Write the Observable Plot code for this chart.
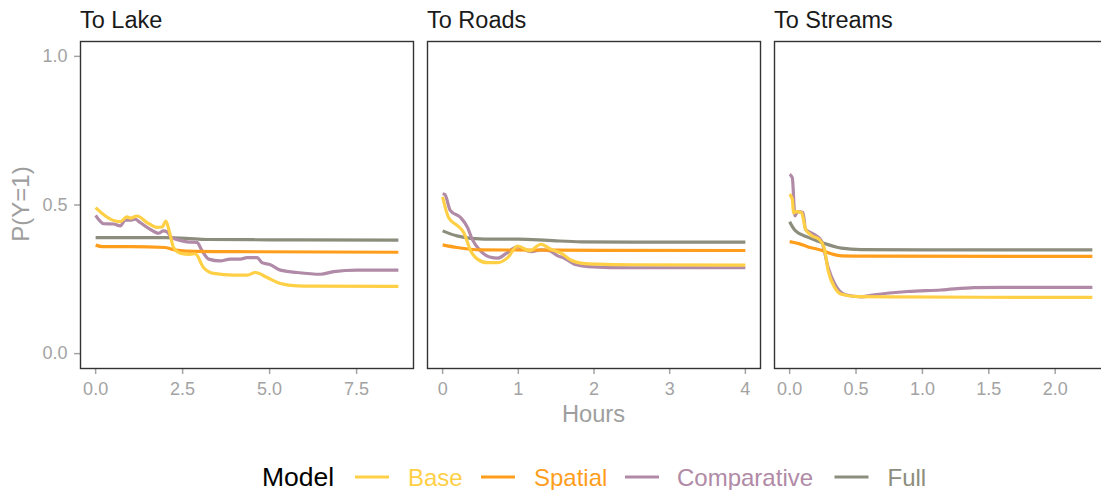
<!DOCTYPE html>
<html>
<head>
<meta charset="utf-8">
<script src="https://cdn.jsdelivr.net/npm/d3@7"></script>
<script src="https://cdn.jsdelivr.net/npm/@observablehq/plot@0.6"></script>
<style>
  html, body { margin: 0; padding: 0; background: #fff; overflow: hidden; }
  #chart { position: relative; width: 1101px; height: 490px; overflow: hidden; background: #fff;
           font-family: "Liberation Sans", Arial, sans-serif; }
  .panel { position: absolute; top: 0; }
  #overlay { position: absolute; left: 0; top: 0; }
</style>
</head>
<body>
<div id="chart"></div>
<script>
// ---- Data ----
const models = ["Base", "Spatial", "Comparative", "Full"];
const modelColors = ["#FFCF45", "#FF9E1C", "#B08AA6", "#8C8D7C"];
const facets = ["To Lake", "To Roads", "To Streams"];

// [hours, P(Y=1)]
const lakeBase = [[0,0.491],[0.28,0.463],[0.57,0.446],[0.71,0.444],[0.9,0.46],[1.0,0.456],[1.19,0.463],[1.48,0.441],[1.76,0.425],[1.91,0.426],[2.02,0.446],[2.12,0.41],[2.24,0.357],[2.43,0.338],[2.72,0.334],[2.86,0.336],[3.1,0.29],[3.39,0.270],[3.97,0.264],[4.35,0.264],[4.59,0.273],[4.93,0.256],[5.31,0.236],[5.79,0.228],[6.27,0.227],[8.7,0.226]];
const lakeSpatial = [[0,0.365],[0.2,0.36],[1.0,0.36],[2.0,0.357],[2.3,0.348],[2.6,0.345],[4.0,0.343],[8.7,0.341]];
const lakeComparative = [[0,0.465],[0.06,0.455],[0.23,0.437],[0.52,0.436],[0.71,0.43],[0.85,0.449],[1.0,0.449],[1.14,0.452],[1.28,0.441],[1.57,0.418],[1.81,0.405],[1.95,0.413],[2.05,0.41],[2.19,0.390],[2.43,0.381],[2.63,0.376],[2.91,0.374],[3.06,0.346],[3.25,0.318],[3.58,0.312],[3.87,0.318],[4.16,0.318],[4.35,0.323],[4.64,0.323],[4.78,0.306],[5.02,0.299],[5.31,0.281],[5.79,0.273],[6.46,0.267],[6.84,0.276],[7.51,0.281],[8.7,0.281]];
const lakeFull = [[0,0.39],[1.0,0.39],[2.0,0.39],[2.6,0.388],[3.2,0.384],[5.0,0.383],[8.7,0.382]];

const roadsBase = [[0,0.527],[0.08,0.457],[0.2,0.430],[0.28,0.407],[0.37,0.346],[0.46,0.318],[0.59,0.306],[0.73,0.306],[0.86,0.323],[0.99,0.362],[1.15,0.346],[1.30,0.368],[1.43,0.351],[1.57,0.337],[1.70,0.314],[1.88,0.303],[2.05,0.301],[2.5,0.299],[4.0,0.298]];
const roadsSpatial = [[0,0.366],[0.19,0.357],[0.5,0.349],[1.5,0.348],[4.0,0.347]];
const roadsComparative = [[0,0.538],[0.03,0.535],[0.1,0.482],[0.24,0.457],[0.33,0.424],[0.39,0.385],[0.5,0.346],[0.62,0.325],[0.73,0.321],[0.84,0.337],[0.99,0.359],[1.17,0.343],[1.30,0.349],[1.41,0.346],[1.52,0.329],[1.61,0.321],[1.74,0.301],[1.92,0.293],[2.5,0.289],[4.0,0.289]];
const roadsFull = [[0,0.413],[0.19,0.396],[0.37,0.388],[0.73,0.385],[1.0,0.385],[1.39,0.381],[1.83,0.376],[2.5,0.375],[4.0,0.375]];

const streamsBase = [[0,0.536],[0.02,0.52],[0.03,0.474],[0.05,0.478],[0.09,0.474],[0.12,0.418],[0.17,0.396],[0.22,0.385],[0.26,0.357],[0.29,0.279],[0.34,0.222],[0.39,0.200],[0.52,0.192],[0.77,0.191],[2.28,0.189]];
const streamsSpatial = [[0,0.377],[0.07,0.370],[0.14,0.359],[0.24,0.348],[0.32,0.335],[0.39,0.329],[0.6,0.328],[2.28,0.327]];
const streamsComparative = [[0,0.603],[0.02,0.592],[0.04,0.463],[0.06,0.478],[0.1,0.475],[0.12,0.418],[0.18,0.402],[0.24,0.379],[0.29,0.290],[0.34,0.234],[0.42,0.198],[0.54,0.191],[0.64,0.198],[0.89,0.209],[1.14,0.214],[1.39,0.222],[1.6,0.223],[2.28,0.223]];
const streamsFull = [[0,0.444],[0.04,0.415],[0.14,0.391],[0.24,0.374],[0.39,0.355],[0.54,0.350],[1.0,0.349],[2.28,0.349]];

const xTicksLake = [0, 2.5, 5, 7.5];
const xTicksRoads = [0, 1, 2, 3, 4];
const xTicksStreams = [0, 0.5, 1, 1.5, 2];
const yTicks = [0, 0.5, 1];

// ---- Build tables ----
function table(series) {
  const rows = [];
  // draw order: Full, Comparative, Spatial, Base (Base on top)
  for (const [model, pts] of series) for (const [h, p] of pts) rows.push({hours: h, p, model});
  return rows;
}
const lakeData = table([["Full", lakeFull], ["Comparative", lakeComparative], ["Spatial", lakeSpatial], ["Base", lakeBase]]);
const roadsData = table([["Full", roadsFull], ["Comparative", roadsComparative], ["Spatial", roadsSpatial], ["Base", roadsBase]]);
const streamsData = table([["Full", streamsFull], ["Comparative", streamsComparative], ["Spatial", streamsSpatial], ["Base", streamsBase]]);

const FONT = "'Liberation Sans', Arial, sans-serif";
const GREY = "#A3A3A3";
const PANEL_W = 333, TOP = 41, BOTTOM = 368, SVG_H = 430;

function expand(maxX) { const e = maxX * 0.05; return [-e, maxX + e]; }

function panel(data, xDomain, xTicks, xFmt, showY, frameLeft, marginLeft) {
  const marginRight = 7;
  const p = Plot.plot({
    width: marginLeft + PANEL_W + marginRight,
    height: SVG_H,
    marginLeft, marginRight,
    marginTop: TOP, marginBottom: SVG_H - BOTTOM,
    style: {fontFamily: FONT, fontSize: "18px", color: GREY, background: "transparent", overflow: "visible"},
    x: {domain: xDomain},
    y: {domain: [-0.05, 1.05]},
    color: {domain: models, range: modelColors},
    marks: [
      Plot.axisX({ticks: xTicks, tickFormat: xFmt, tickSize: 6, tickPadding: 8, strokeWidth: 1.5, label: null}),
      showY ? Plot.axisY({ticks: yTicks, tickFormat: d3.format(".1f"), tickSize: 6, tickPadding: 7, strokeWidth: 1.5, label: null})
            : Plot.axisY({ticks: [], label: null}),
      Plot.line(data, {x: "hours", y: "p", z: "model", stroke: "model", strokeWidth: 3.2,
                       curve: "monotone-x", strokeLinejoin: "round", strokeLinecap: "butt"}),
      Plot.frame({stroke: "#333333", strokeWidth: 1.4})
    ]
  });
  const div = document.createElement("div");
  div.className = "panel";
  div.style.left = (frameLeft - marginLeft) + "px";
  div.style.width = (marginLeft + PANEL_W + marginRight) + "px";
  div.appendChild(p);
  return div;
}

const chart = document.getElementById("chart");
chart.appendChild(panel(lakeData, expand(8.7), xTicksLake, d3.format(".1f"), true, 80, 80));
chart.appendChild(panel(roadsData, expand(4.0), xTicksRoads, d3.format("d"), false, 427, 20));
chart.appendChild(panel(streamsData, expand(2.28), xTicksStreams, d3.format(".1f"), false, 774, 20));

// ---- Overlay: strip titles, axis titles, legend ----
const svg = d3.select(chart).append("svg").attr("id", "overlay")
  .attr("width", 1101).attr("height", 490).style("font-family", FONT);

const titleX = [80, 427, 774];
facets.forEach((t, i) => {
  svg.append("text").attr("x", titleX[i]).attr("y", 28.3)
    .attr("font-size", 23.5).attr("fill", "#1A1A1A").text(t);
});
svg.append("text").attr("x", 593.5).attr("y", 422).attr("text-anchor", "middle")
  .attr("font-size", 23.7).attr("fill", "#9E9E9E").text("Hours");
svg.append("text").attr("transform", "translate(28.5,204) rotate(-90)").attr("text-anchor", "middle")
  .attr("font-size", 24).attr("fill", "#9E9E9E").text("P(Y=1)");

// legend
const legY = 477, legBase = 485.5;
svg.append("text").attr("x", 262).attr("y", legBase).attr("font-size", 26.5).attr("fill", "#000").text("Model");
const keyX = [355, 481, 625, 834.5];
const labX = [408, 534, 677, 887.5];
models.forEach((m, i) => {
  svg.append("line").attr("x1", keyX[i]).attr("x2", keyX[i] + 34).attr("y1", legY).attr("y2", legY)
    .attr("stroke", modelColors[i]).attr("stroke-width", 3.2);
  svg.append("text").attr("x", labX[i]).attr("y", legBase).attr("font-size", 24)
    .attr("fill", modelColors[i]).text(m);
});
</script>
</body>
</html>
